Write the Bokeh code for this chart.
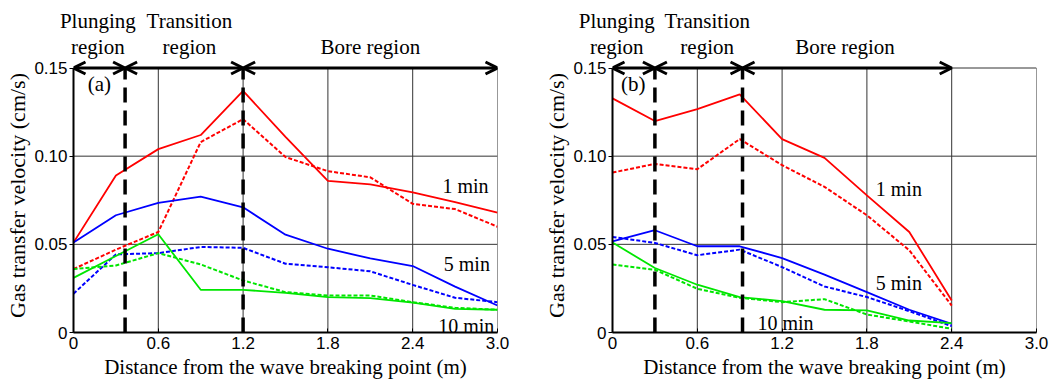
from bokeh.plotting import figure
from bokeh.models import Label, Arrow, OpenHead, FixedTicker, LinearAxis
from bokeh.layouts import row
from bokeh.embed import file_html
from bokeh.resources import INLINE

# ---------------- data ----------------
x_a = [0, 0.3, 0.6, 0.9, 1.2, 1.5, 1.8, 2.1, 2.4, 2.7, 3.0]
a_1min_solid = [0.051, 0.089, 0.104, 0.112, 0.137, 0.111, 0.086, 0.084, 0.0795, 0.074, 0.068]
a_1min_dot = [0.036, 0.047, 0.057, 0.108, 0.121, 0.0995, 0.0915, 0.088, 0.073, 0.070, 0.060]
a_5min_solid = [0.051, 0.0665, 0.0735, 0.077, 0.071, 0.0555, 0.0475, 0.042, 0.0377, 0.026, 0.0153]
a_5min_dot = [0.022, 0.0443, 0.045, 0.0485, 0.048, 0.039, 0.037, 0.0347, 0.027, 0.0197, 0.0172]
a_10min_solid = [0.031, 0.0434, 0.0557, 0.0242, 0.0242, 0.0225, 0.0201, 0.0195, 0.0169, 0.0134, 0.0129]
a_10min_dot = [0.036, 0.038, 0.045, 0.0386, 0.0295, 0.0229, 0.021, 0.021, 0.0172, 0.014, 0.0129]

x_b = [0, 0.3, 0.6, 0.9, 1.2, 1.5, 1.8, 2.1, 2.4]
b_1min_solid = [0.1328, 0.1199, 0.1267, 0.135, 0.1097, 0.099, 0.0778, 0.057, 0.0182]
b_1min_dot = [0.0907, 0.0956, 0.0926, 0.1097, 0.0949, 0.0826, 0.0665, 0.0466, 0.0153]
b_5min_solid = [0.0517, 0.058, 0.0489, 0.0489, 0.0422, 0.0328, 0.0229, 0.0129, 0.0049]
b_5min_dot = [0.0542, 0.0508, 0.0438, 0.047, 0.0371, 0.0261, 0.0201, 0.0121, 0.0036]
b_10min_solid = [0.051, 0.0366, 0.0271, 0.0201, 0.0178, 0.0129, 0.0125, 0.0068, 0.0053]
b_10min_dot = [0.0386, 0.0356, 0.0248, 0.0197, 0.0172, 0.0189, 0.0102, 0.0062, 0.0021]

a_bounds = [0.365, 1.2]
b_bounds = [0.30, 0.92]
a_end = 3.0
b_end = 2.4

x_ticks = [0, 0.6, 1.2, 1.8, 2.4, 3.0]
x_tick_labels = ["0", "0.6", "1.2", "1.8", "2.4", "3.0"]
y_ticks = [0, 0.05, 0.10, 0.15]
y_tick_labels = ["0", "0.05", "0.10", "0.15"]

region_names = ["Plunging\nregion", "Transition\nregion", "Bore region"]
a_region_centers = [0.172, 0.82, 2.10]
b_region_centers = [0.03, 0.67, 1.645]
time_labels = ["1 min", "5 min", "10 min"]

RED = "#ff0000"
BLUE = "#0000ff"
GREEN = "#00e600"
SERIF = "Liberation Serif"
SANS = "Liberation Sans"

X_MAX = 3.0
Y_MAX = 0.15
Y_TOP = 0.15539  # a little room above 0.15 for the arrow heads


def make_panel(xs, series, bounds, end, left, right, tag, tag_x,
               header_x, tlabels):
    p = figure(width=525, height=385, x_range=(0, X_MAX), y_range=(0, Y_TOP),
               output_backend="svg", toolbar_location=None,
               min_border_left=left, min_border_right=right,
               min_border_top=58, min_border_bottom=53)
    p.background_fill_color = "white"
    p.border_fill_color = "white"
    p.outline_line_color = None
    p.grid.visible = False

    p.xaxis.ticker = FixedTicker(ticks=x_ticks)
    p.xaxis.major_label_overrides = {t: l for t, l in zip(x_ticks, x_tick_labels)}
    p.yaxis.ticker = FixedTicker(ticks=y_ticks)
    p.yaxis.major_label_overrides = {t: l for t, l in zip(y_ticks, y_tick_labels)}
    p.yaxis.bounds = (0, Y_MAX)

    for ax in (p.xaxis, p.yaxis):
        ax.axis_line_width = 2
        ax.axis_line_color = "black"
        ax.major_label_text_font = SANS
        ax.major_label_text_font_size = "17px"
        ax.major_label_text_color = "black"
        ax.axis_label_text_font = SERIF
        ax.axis_label_text_font_style = "normal"
        ax.axis_label_text_color = "black"
        ax.minor_tick_line_color = None
        ax.major_tick_line_color = "black"
    p.xaxis.major_tick_in = 4
    p.xaxis.major_tick_out = 0
    p.yaxis.major_tick_in = 0
    p.yaxis.major_tick_out = 4
    p.xaxis.major_label_standoff = 4
    p.yaxis.major_label_standoff = 2
    p.xaxis.axis_label = "Distance from the wave breaking point (m)"
    p.yaxis.axis_label = "Gas transfer velocity (cm/s)"
    p.xaxis.axis_label_text_font_size = "21px"
    p.yaxis.axis_label_text_font_size = "22px"
    p.xaxis.axis_label_standoff = 3
    p.yaxis.axis_label_standoff = 1

    # region names as tick labels of an axis above the frame
    hdr = LinearAxis(ticker=FixedTicker(ticks=header_x),
                     major_label_overrides={t: l for t, l in zip(header_x, region_names)},
                     axis_line_color=None, major_tick_line_color=None,
                     minor_tick_line_color=None, major_tick_in=0, major_tick_out=0,
                     major_label_standoff=0, major_label_text_font=SERIF,
                     major_label_text_font_size="21px",
                     major_label_text_line_height=1.05,
                     major_label_text_color="black")
    p.add_layout(hdr, "above")

    # grid and frame (limited to the data area)
    p.segment(x0=x_ticks, y0=[0] * len(x_ticks), x1=x_ticks,
              y1=[Y_MAX] * len(x_ticks), line_color="#333333", line_width=1)
    p.segment(x0=[0] * len(y_ticks), y0=y_ticks, x1=[X_MAX] * len(y_ticks),
              y1=y_ticks, line_color="#333333", line_width=1)

    colors = [RED, RED, BLUE, BLUE, GREEN, GREEN]
    for i, ys in enumerate(series):
        if i % 2 == 0:
            p.line(xs, ys, line_color=colors[i], line_width=1.8)
        else:
            p.line(xs, ys, line_color=colors[i], line_width=2,
                   line_dash="4 2")

    # region boundaries
    for b in bounds:
        p.segment(x0=[b], y0=[0], x1=[b], y1=[Y_MAX], line_color="black",
                  line_width=3.5, line_dash="15 8")

    # region arrows at top
    pts = [0] + list(bounds) + [end]
    for s, e in zip(pts[:-1], pts[1:]):
        p.add_layout(Arrow(x_start=s, y_start=Y_MAX, x_end=e, y_end=Y_MAX,
                           line_width=3, line_color="black",
                           start=OpenHead(size=12, line_width=3, line_color="black"),
                           end=OpenHead(size=12, line_width=3, line_color="black")))

    p.add_layout(Label(x=tag_x, y=0.1412, text=tag, text_align="left",
                       text_baseline="alphabetic", text_font=SERIF,
                       text_font_size="21px", text_color="black"))

    for (tx, ty), t in zip(tlabels, time_labels):
        p.add_layout(Label(x=tx, y=ty, text=t, text_align="left",
                           text_baseline="alphabetic", text_font=SERIF,
                           text_font_size="20px", text_color="black"))
    return p


pa = make_panel(x_a, [a_1min_solid, a_1min_dot, a_5min_solid, a_5min_dot,
                      a_10min_solid, a_10min_dot],
                a_bounds, a_end, 73, 28, "(a)", 0.10, a_region_centers,
                [(2.61, 0.083), (2.62, 0.0387), (2.58, 0.0035)])
pb = make_panel(x_b, [b_1min_solid, b_1min_dot, b_5min_solid, b_5min_dot,
                      b_10min_solid, b_10min_dot],
                b_bounds, b_end, 87, 14, "(b)", 0.06, b_region_centers,
                [(1.863, 0.0813), (1.863, 0.0279), (1.026, 0.0053)])

layout = row(pa, pb)
open("out.html", "w").write(file_html(layout, INLINE))
